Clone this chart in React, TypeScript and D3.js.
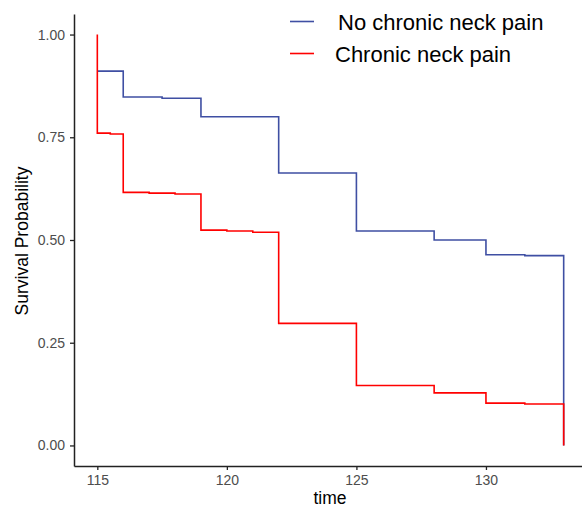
import { useEffect, useRef } from "react";
import * as d3 from "d3";

// survival curves (time, probability)
const noPainTime = [115, 116, 117.5, 119, 122, 125, 128, 130, 131.5, 133];
const noPainSurv = [0.911, 0.848, 0.845, 0.8, 0.663, 0.522, 0.5, 0.464, 0.462, 0.0];

const painTime = [115, 115, 115.5, 116, 117, 118, 119, 120, 121, 122, 125, 128, 130, 131.5, 133];
const painSurv = [1.0, 0.76, 0.758, 0.616, 0.614, 0.612, 0.524, 0.522, 0.519, 0.297, 0.146, 0.128, 0.103, 0.101, 0.0];

const xTicks = [115, 120, 125, 130];
const yTicks = [0, 0.25, 0.5, 0.75, 1.0];

const seriesNames = ["No chronic neck pain", "Chronic neck pain"];
const seriesColors = ["#3F4FA3", "#FF0000"];

export default function App() {
  const svgRef = useRef<SVGSVGElement>(null);

  useEffect(() => {
    const width = 582;
    const height = 509;
    const margin = { top: 14, right: -5, bottom: 43, left: 74 };

    const svg = d3.select(svgRef.current);
    svg.selectAll("*").remove();
    svg.attr("width", width).attr("height", height).style("background", "#fff");

    const x = d3
      .scaleLinear()
      .domain([114.1, 133.9])
      .range([margin.left, width - margin.right]);
    const y = d3
      .scaleLinear()
      .domain([-0.05, 1.05])
      .range([height - margin.bottom, margin.top]);

    const font = "Arial, 'Liberation Sans', sans-serif";

    // axes
    const xAxis = svg
      .append("g")
      .attr("transform", `translate(0,${height - margin.bottom})`)
      .call(d3.axisBottom(x).tickValues(xTicks).tickSize(4).tickPadding(5).tickSizeOuter(0));
    const yAxis = svg
      .append("g")
      .attr("transform", `translate(${margin.left},0)`)
      .call(
        d3
          .axisLeft(y)
          .tickValues(yTicks)
          .tickSize(4)
          .tickPadding(5)
          .tickSizeOuter(0)
          .tickFormat(d3.format(".2f"))
      );
    [xAxis, yAxis].forEach(g => {
      g.select(".domain").attr("stroke", "#222").attr("stroke-width", 1.5);
      g.selectAll(".tick line").attr("stroke", "#222").attr("stroke-width", 1.3);
      g.selectAll(".tick text")
        .attr("fill", "#4D4D4D")
        .style("font-family", font)
        .style("font-size", "14px");
    });

    // axis titles
    svg
      .append("text")
      .attr("x", 330)
      .attr("y", 504)
      .attr("text-anchor", "middle")
      .style("font-family", font)
      .style("font-size", "17.5px")
      .text("time");
    svg
      .append("text")
      .attr("transform", `translate(28,241) rotate(-90)`)
      .attr("text-anchor", "middle")
      .style("font-family", font)
      .style("font-size", "17.5px")
      .text("Survival Probability");

    // curves
    const line = d3
      .line<[number, number]>()
      .x(d => x(d[0]))
      .y(d => y(d[1]))
      .curve(d3.curveStepAfter);

    const curves: [number, number][][] = [
      noPainTime.map((t, i) => [t, noPainSurv[i]]),
      painTime.map((t, i) => [t, painSurv[i]])
    ];

    curves.forEach((pts, i) => {
      svg
        .append("path")
        .attr("d", line(pts))
        .attr("fill", "none")
        .attr("stroke", seriesColors[i])
        .attr("stroke-width", 1.6);
    });

    // legend
    const legend = svg.append("g").attr("transform", "translate(290,21.5)");
    seriesNames.forEach((name, i) => {
      const row = legend.append("g").attr("transform", `translate(0,${i * 32})`);
      row
        .append("line")
        .attr("x1", 0)
        .attr("x2", 24)
        .attr("stroke", seriesColors[i])
        .attr("stroke-width", 1.6);
      row
        .append("text")
        .attr("x", i === 0 ? 48 : 45)
        .attr("y", 8)
        .style("font-family", font)
        .style("font-size", "22px")
        .text(name);
    });
  }, []);

  return (
    <svg
      ref={svgRef}
      style={{ position: "absolute", left: 0, top: 0, display: "block" }}
    ></svg>
  );
}
